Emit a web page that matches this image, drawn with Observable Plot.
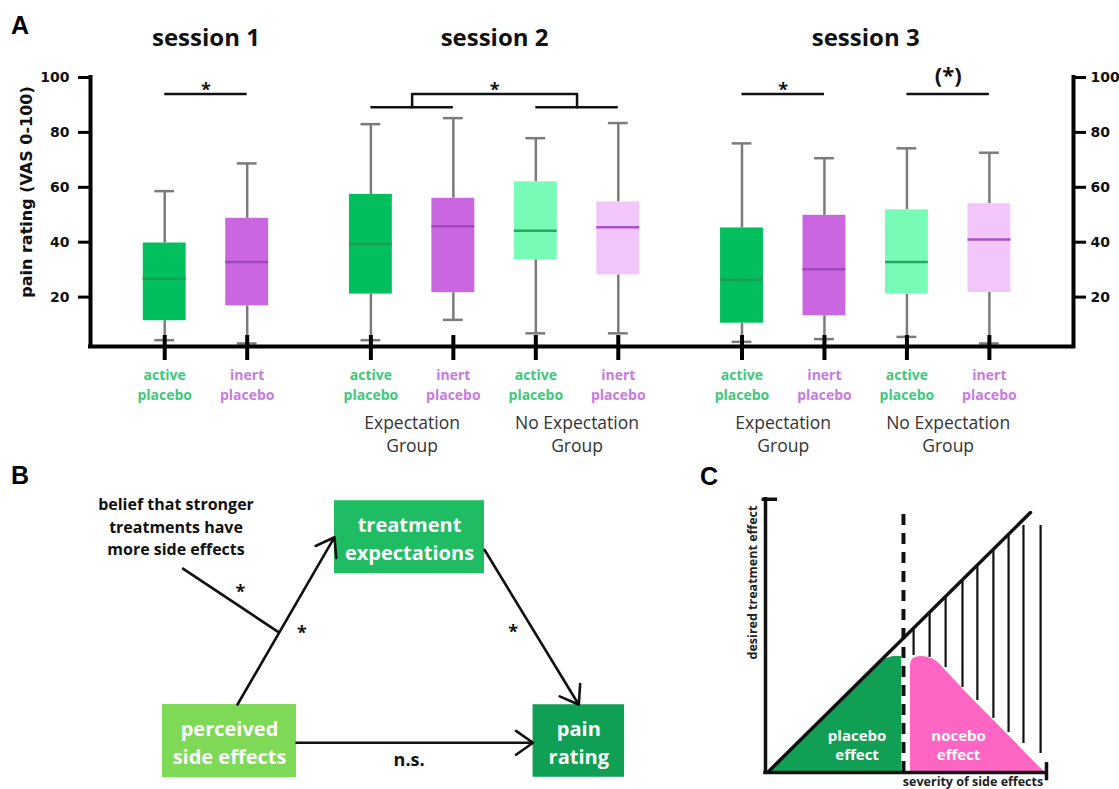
<!DOCTYPE html>
<html>
<head>
<meta charset="utf-8">
<script src="https://cdn.jsdelivr.net/npm/d3@7"></script>
<script src="https://cdn.jsdelivr.net/npm/@observablehq/plot@0.6"></script>
<style>
html, body { margin: 0; padding: 0; background: #fff; }
#fig { position: relative; width: 1119px; height: 789px; overflow: hidden; font-family: "Open Sans", sans-serif; }
.panel { position: absolute; }
.letter { position: absolute; font: 700 25px "Liberation Sans", Arial, sans-serif; line-height: 1; color: #000; }
</style>
</head>
<body>
<div id="fig">
  <div class="panel" id="panelA" style="left:0;top:0"></div>
  <div class="panel" id="panelB" style="left:0;top:460px"></div>
  <div class="panel" id="panelC" style="left:690px;top:460px"></div>
  <div class="letter" style="left:11px;top:13px">A</div>
  <div class="letter" style="left:11px;top:463px">B</div>
  <div class="letter" style="left:700px;top:464px">C</div>
</div>
<script>
// ================= Panel A data =================
const sessionNames = ["session 1", "session 2", "session 3"];
const boxSession   = [1, 1, 2, 2, 2, 2, 3, 3, 3, 3];
const boxTreatment = ["active placebo", "inert placebo", "active placebo", "inert placebo", "active placebo",
                      "inert placebo", "active placebo", "inert placebo", "active placebo", "inert placebo"];
const boxGroup     = ["", "", "Expectation Group", "Expectation Group", "No Expectation Group", "No Expectation Group",
                      "Expectation Group", "Expectation Group", "No Expectation Group", "No Expectation Group"];
const whiskerLow   = [4.3, 3.1, 4.3, 11.7, 6.8, 6.8, 3.7, 4.7, 5.5, 3.1];
const quartile1    = [11.4, 16.8, 21.1, 21.6, 33.6, 28.1, 10.5, 13.2, 21.1, 21.7];
const medianValue  = [26.7, 32.8, 39.4, 45.8, 44.2, 45.4, 26.3, 30.1, 32.8, 41.0];
const quartile3    = [39.7, 48.7, 57.4, 56.0, 62.0, 54.7, 45.2, 49.8, 51.8, 54.0];
const whiskerHigh  = [58.6, 68.7, 83.0, 85.2, 77.9, 83.4, 76.0, 70.6, 74.2, 72.6];
const yTicks       = [20, 40, 60, 80, 100];
const yLabel       = "pain rating (VAS 0-100)";
const pairFrom     = [0, 6, 8];
const pairTo       = [1, 7, 9];
const pairMark     = ["*", "*", "(*)"];
const groupContrastSession = 2;
const groupContrastMark = "*";

// ================= Panel B data =================
const nodeNames   = ["perceived side effects", "treatment expectations", "pain rating"];
const edgeFrom    = ["perceived side effects", "treatment expectations", "perceived side effects"];
const edgeTo      = ["treatment expectations", "pain rating", "pain rating"];
const edgeResult  = ["*", "*", "n.s."];
const moderatorText   = "belief that stronger treatments have more side effects";
const moderatorResult = "*";

// ================= Panel C data =================
const diagonalX = [0.011, 0.943];
const diagonalY = [0.004, 0.942];
const placeboX  = [0.011, 0.1, 0.2, 0.3, 0.38, 0.41, 0.44, 0.46, 0.484];
const placeboY  = [0.004, 0.094, 0.195, 0.296, 0.376, 0.404, 0.416, 0.42, 0.42];
const noceboX   = [0.516, 0.522, 0.535, 0.555, 0.58, 0.61, 0.647, 0.7, 0.765, 0.83, 0.883, 0.94, 0.989];
const noceboY   = [0.39, 0.408, 0.417, 0.42, 0.417, 0.402, 0.363, 0.305, 0.237, 0.17, 0.116, 0.055, 0.005];
const hatchX      = [0.527, 0.584, 0.641, 0.701, 0.754, 0.811, 0.865, 0.918, 0.979];
const hatchTop    = [0.523, 0.58, 0.638, 0.699, 0.749, 0.806, 0.859, 0.895, 0.895];
const hatchBottom = [0.424, 0.417, 0.380, 0.308, 0.261, 0.196, 0.145, 0.105, 0.069];
const thresholdX  = 0.491;
const areaLabels  = ["placebo effect", "nocebo effect"];
const axisLabelsC = ["desired treatment effect", "severity of side effects"];

// ================= Panel A =================
const boxes = boxTreatment.map((t, i) => ({
  treatment: t, group: boxGroup[i], session: boxSession[i],
  pos: i + (boxSession[i] - 1) * 0.5,
  lo: whiskerLow[i], q1: quartile1[i], med: medianValue[i], q3: quartile3[i], hi: whiskerHigh[i]
}));
const isActive = d => d.treatment.startsWith("active");
const isNoExp = d => d.group.startsWith("No");
const boxFill = d => isNoExp(d) ? (isActive(d) ? "#79fbb8" : "#f3c6fb") : (isActive(d) ? "#02bf5e" : "#c966e0");
const medStroke = d => isActive(d) ? (isNoExp(d) ? "#25a862" : "#18a052") : (isNoExp(d) ? "#a553c4" : "#a246bd");
const labelFill = d => isActive(d) ? "#3cc97b" : "#c87ae2";

const X_DOMAIN = [-0.9, 11.02];
const HALF_BOX = 0.26, HALF_CAP = 0.12;
const PAIR_LEVEL = 94, BRACKET_LOW = 89.2, BRACKET_HIGH = 94;

const sessionTitles = sessionNames.map((name, k) => ({
  name, pos: d3.mean(boxes.filter(b => b.session === k + 1), b => b.pos)
}));
const groupLabels = d3.flatGroup(boxes.filter(b => b.group), b => b.session, b => b.group)
  .map(([s, g, bs]) => ({ text: g.replace(/ (\S+)$/, "\n$1"), pos: d3.mean(bs, b => b.pos) }));
const pairs = pairFrom.map((f, k) => ({
  x1: boxes[f].pos, x2: boxes[pairTo[k]].pos,
  xm: (boxes[f].pos + boxes[pairTo[k]].pos) / 2, mark: pairMark[k]
}));
const s2 = boxes.filter(b => b.session === groupContrastSession);
const gExp = s2.filter(b => !isNoExp(b)), gNo = s2.filter(b => isNoExp(b));
const groupSpans = [gExp, gNo].map(g => ({ x1: g[0].pos, x2: g[g.length - 1].pos, xm: d3.mean(g, b => b.pos) }));
const bracket = [
  { x: groupSpans[0].xm, y: BRACKET_LOW }, { x: groupSpans[0].xm, y: BRACKET_HIGH },
  { x: groupSpans[1].xm, y: BRACKET_HIGH }, { x: groupSpans[1].xm, y: BRACKET_LOW }
];

const baseStyle = { background: "transparent", overflow: "visible", fontFamily: "'Open Sans', sans-serif", color: "#000" };

const plotA = Plot.plot({
  width: 1119, height: 460,
  marginLeft: 90, marginRight: 46, marginTop: 77, marginBottom: 114,
  x: { domain: X_DOMAIN, axis: null },
  y: { domain: [2, 100], axis: null },
  color: { type: "identity" },
  style: baseStyle,
  marks: [
    // whiskers
    Plot.ruleX(boxes, { x: "pos", y1: "lo", y2: "q1", stroke: "#7b7b7b", strokeWidth: 2.5 }),
    Plot.ruleX(boxes, { x: "pos", y1: "q3", y2: "hi", stroke: "#7b7b7b", strokeWidth: 2.5 }),
    Plot.ruleY(boxes, { y: "lo", x1: d => d.pos - HALF_CAP, x2: d => d.pos + HALF_CAP, stroke: "#7b7b7b", strokeWidth: 2.5 }),
    Plot.ruleY(boxes, { y: "hi", x1: d => d.pos - HALF_CAP, x2: d => d.pos + HALF_CAP, stroke: "#7b7b7b", strokeWidth: 2.5 }),
    // boxes
    Plot.rect(boxes, { x1: d => d.pos - HALF_BOX, x2: d => d.pos + HALF_BOX, y1: "q1", y2: "q3", fill: boxFill }),
    Plot.ruleY(boxes, { y: "med", x1: d => d.pos - HALF_BOX, x2: d => d.pos + HALF_BOX, stroke: medStroke, strokeWidth: 2.5 }),
    // frame axes
    Plot.ruleY([2], { x1: X_DOMAIN[0], x2: X_DOMAIN[1], strokeWidth: 4, strokeLinecap: "square" }),
    Plot.ruleX(X_DOMAIN, { y1: 2, y2: 100, strokeWidth: 4, strokeLinecap: "square" }),
    Plot.axisY({ ticks: yTicks, anchor: "left", tickSize: 12, tickPadding: 9, strokeWidth: 3, label: null,
                 fontSize: 14, fontWeight: "bold", fontFamily: "'DejaVu Sans', sans-serif", fill: "#111" }),
    Plot.axisY({ ticks: yTicks, anchor: "right", tickSize: 12, tickPadding: 5, strokeWidth: 3, label: null,
                 fontSize: 14, fontWeight: "bold", fontFamily: "'DejaVu Sans', sans-serif", fill: "#111" }),
    Plot.text([yLabel], { frameAnchor: "left", textAnchor: "middle", dx: -64, dy: -20, rotate: -90, fontSize: 16,
                 fontWeight: "bold", fontFamily: "'DejaVu Sans', sans-serif", fill: "#111" }),
    // x ticks crossing the axis
    Plot.ruleX(boxes, { x: "pos", y1: 2, y2: 2, insetTop: -11, insetBottom: -14, strokeWidth: 4 }),
    // category labels
    Plot.text(boxes, { x: "pos", frameAnchor: "bottom", lineAnchor: "top", dy: 20,
                       text: d => d.treatment.replace(" ", "\n"), fill: labelFill,
                       fontSize: 14, fontWeight: "bold", lineHeight: 1.38 }),
    Plot.text(groupLabels, { x: "pos", text: "text", frameAnchor: "bottom", lineAnchor: "top", dy: 65,
                       fontSize: 17.5, fill: "#333", lineHeight: 1.37 }),
    // session titles
    Plot.text(sessionTitles, { x: "pos", text: "name", frameAnchor: "top", lineAnchor: "bottom", dy: -32,
                       fontSize: 24, fontWeight: "bold", fill: "#111" }),
    // significance
    Plot.ruleY(pairs, { y: () => PAIR_LEVEL, x1: "x1", x2: "x2", strokeWidth: 2.5, stroke: "#111" }),
    Plot.text(pairs.filter(p => p.mark === "*"), { x: "xm", y: () => PAIR_LEVEL, text: "mark", dy: -4,
                       fontSize: 18, fontWeight: "bold", fill: "#111" }),
    Plot.text(pairs.filter(p => p.mark !== "*"), { x: "xm", y: () => PAIR_LEVEL, text: "mark", dy: -18,
                       fontSize: 22, fontWeight: "bold", fill: "#111" }),
    Plot.ruleY(groupSpans, { y: () => BRACKET_LOW, x1: "x1", x2: "x2", strokeWidth: 2.5, stroke: "#111" }),
    Plot.line(bracket, { x: "x", y: "y", strokeWidth: 2.5, stroke: "#111" }),
    Plot.text([groupContrastMark], { x: () => (groupSpans[0].xm + groupSpans[1].xm) / 2, y: () => BRACKET_HIGH,
                       dy: -4, fontSize: 18, fontWeight: "bold", fill: "#111" })
  ]
});
document.getElementById("panelA").appendChild(plotA);

// ================= Panel B =================
// diagram layout (pixels inside the panel)
const nodeLayout = {
  "perceived side effects": { cx: 229, cy: 280.5, w: 134, h: 73, fill: "#7ed957" },
  "treatment expectations": { cx: 409, cy: 76.7, w: 150, h: 73, fill: "#1fbc64" },
  "pain rating":            { cx: 578.3, cy: 280.5, w: 91.5, h: 72.5, fill: "#0f9f55" }
};
const port = (name, side, off = 0) => {
  const n = nodeLayout[name];
  if (side === "top") return [n.cx + off, n.cy - n.h / 2];
  if (side === "bottom") return [n.cx + off, n.cy + n.h / 2];
  if (side === "left") return [n.cx - n.w / 2, n.cy + off];
  return [n.cx + n.w / 2, n.cy + off];
};
const edgePorts = [[["top", 8], ["left", 0]], [["right", 12.6], ["top", 0]], [["right", 1.8], ["left", 1.8]]];
const edgeLabelOffset = [[16, 12], [-18.6, 5.4], [-5.7, 17]];
const edges = edgeFrom.map((f, k) => {
  const [a, b] = [port(f, ...edgePorts[k][0]), port(edgeTo[k], ...edgePorts[k][1])];
  return { x1: a[0], y1: a[1], x2: b[0], y2: b[1], label: edgeResult[k],
           lx: (a[0] + b[0]) / 2 + edgeLabelOffset[k][0], ly: (a[1] + b[1]) / 2 + edgeLabelOffset[k][1] };
});
const nodes = nodeNames.map(name => ({ name, ...nodeLayout[name], text: name.replace(" ", "\n") }));
const modT = 0.43;
const modEnd = { x: edges[0].x1 + modT * (edges[0].x2 - edges[0].x1), y: edges[0].y1 + modT * (edges[0].y2 - edges[0].y1) };
const moderator = [{ text: moderatorText.replace(/^(\S+ \S+ \S+) (\S+ \S+) /, "$1\n$2\n"), x: 175.5, y: 64.7,
                     lx1: 181.7, ly1: 107.7, lx2: modEnd.x, ly2: modEnd.y, mark: moderatorResult, mx: 240, my: 131.7 }];

const plotB = Plot.plot({
  width: 700, height: 329, margin: 0,
  x: { domain: [0, 700], range: [0, 700], axis: null },
  y: { domain: [0, 329], range: [0, 329], axis: null },
  color: { type: "identity" },
  style: baseStyle,
  marks: [
    Plot.rect(nodes, { x1: d => d.cx - d.w / 2, x2: d => d.cx + d.w / 2, y1: d => d.cy - d.h / 2, y2: d => d.cy + d.h / 2, fill: "fill" }),
    Plot.text(nodes, { x: "cx", y: "cy", text: "text", fill: "white", fontSize: 20, fontWeight: "bold", lineHeight: 1.39 }),
    Plot.arrow(edges, { x1: "x1", y1: "y1", x2: "x2", y2: "y2", stroke: "#111", strokeWidth: 2.6, headLength: 12, headAngle: 70 }),
    Plot.text(edges, { x: "lx", y: "ly", text: "label", fill: "#111", fontSize: 18, fontWeight: "bold" }),
    Plot.link(moderator, { x1: "lx1", y1: "ly1", x2: "lx2", y2: "ly2", stroke: "#111", strokeWidth: 2.6 }),
    Plot.text(moderator, { x: "x", y: "y", text: "text", fill: "#111", fontSize: 16, fontWeight: "bold", lineHeight: 1.43 }),
    Plot.text(moderator, { x: "mx", y: "my", text: "mark", fill: "#111", fontSize: 18, fontWeight: "bold" })
  ]
});
document.getElementById("panelB").appendChild(plotB);

// ================= Panel C =================
const diag = diagonalX.map((x, i) => ({ x, y: diagonalY[i] }));
const placebo = placeboX.map((x, i) => ({ x, y: placeboY[i] }));
const nocebo = noceboX.map((x, i) => ({ x, y: noceboY[i] }));
const hatch = hatchX.map((x, i) => ({ x, y1: hatchBottom[i], y2: hatchTop[i] }));
const areaText = [
  { text: areaLabels[0].replace(" ", "\n"), x: 0.326, y: 0.103 },
  { text: areaLabels[1].replace(" ", "\n"), x: 0.687, y: 0.103 }
];

const plotC = Plot.plot({
  width: 429, height: 329,
  marginLeft: 75, marginRight: 73, marginTop: 36, marginBottom: 17,
  x: { domain: [0, 1], axis: null },
  y: { domain: [0, 1], axis: null },
  style: baseStyle,
  marks: [
    Plot.areaY(placebo, { x: "x", y: "y", fill: "#119f55", curve: "monotone-x" }),
    Plot.areaY(nocebo, { x: "x", y: "y", fill: "#ff66c4", curve: "monotone-x" }),
    Plot.ruleX(hatch, { x: "x", y1: "y1", y2: "y2", stroke: "#111", strokeWidth: 2.2 }),
    Plot.line(diag, { x: "x", y: "y", stroke: "#111", strokeWidth: 3.5 }),
    Plot.ruleX([thresholdX], { y1: 0, y2: 0.96, stroke: "#111", strokeWidth: 4, strokeDasharray: "11,8" }),
    Plot.ruleX([0], { y1: 0, y2: 0.99, stroke: "#111", strokeWidth: 3.5, strokeLinecap: "square" }),
    Plot.ruleY([0.99], { x1: -0.012, x2: 0.043, stroke: "#111", strokeWidth: 3.5 }),
    Plot.ruleY([0], { x1: 0, x2: 1, stroke: "#111", strokeWidth: 3.5, strokeLinecap: "square" }),
    Plot.ruleX([1], { y1: -0.03, y2: 0.036, stroke: "#111", strokeWidth: 3.5 }),
    Plot.text(areaText, { x: "x", y: "y", text: "text", fill: "white", fontSize: 15, fontWeight: "bold", lineHeight: 1.3 }),
    Plot.text([axisLabelsC[0]], { frameAnchor: "left", textAnchor: "middle", dx: -13, dy: -52, rotate: -90,
                                  fontSize: 12.5, fontWeight: "bold", fill: "#222" }),
    Plot.text([axisLabelsC[1]], { frameAnchor: "bottom", textAnchor: "middle", lineAnchor: "bottom", dx: 67, dy: 13.5,
                                  fontSize: 12.5, fontWeight: "bold", fill: "#222" })
  ]
});
document.getElementById("panelC").appendChild(plotC);
</script>
</body>
</html>
